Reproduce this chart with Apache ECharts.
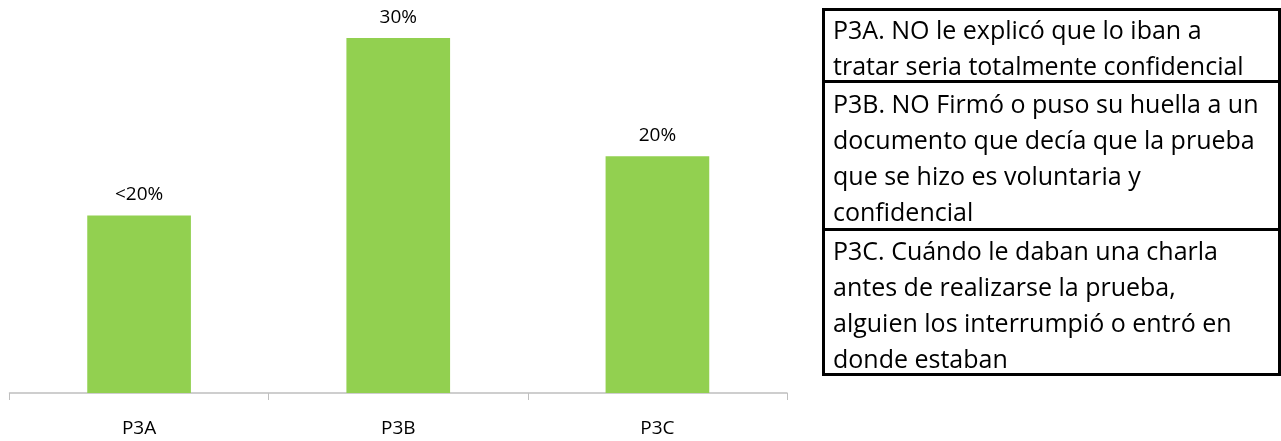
<!DOCTYPE html>
<html>
<head>
<meta charset="utf-8">
<script src="https://cdn.jsdelivr.net/npm/echarts@6/dist/echarts.min.js"></script>
<style>
  html, body { margin: 0; padding: 0; background: #ffffff; }
  #chart { width: 1281px; height: 441px; }
</style>
</head>
<body>
<div id="chart"></div>
<script>
const categories = ['P3A', 'P3B', 'P3C'];
const values = [15, 30, 20];
const valueLabels = ['<20%', '30%', '20%'];
const descriptions = [
  'P3A. NO le explicó que lo iban a\ntratar seria totalmente confidencial',
  'P3B. NO Firmó o puso su huella a un\ndocumento que decía que la prueba\nque se hizo es voluntaria y\nconfidencial',
  'P3C. Cuándo le daban una charla\nantes de realizarse la prueba,\nalguien los interrumpió o entró en\ndonde estaban'
];

const FONT = '"Open Sans", sans-serif';
const chart = echarts.init(document.getElementById('chart'), null, { renderer: 'canvas' });

// table geometry (layout only)
const tbl = { x: 823.5, y: 9.5, w: 456, rows: [72, 148, 145] };
const graphics = [];
let yy = tbl.y;
const textTops = [13.5, 87.5, 234.5];
descriptions.forEach(function (d, i) {
  graphics.push({
    type: 'rect',
    shape: { x: tbl.x, y: yy, width: tbl.w, height: tbl.rows[i] },
    style: { fill: 'none', stroke: '#000', lineWidth: 3 },
    silent: true
  });
  graphics.push({
    type: 'text',
    x: 833,
    y: textTops[i],
    style: {
      text: d,
      font: '25px ' + FONT,
      fill: '#000',
      lineHeight: 36,
      verticalAlign: 'top',
      align: 'left'
    },
    silent: true
  });
  yy += tbl.rows[i];
});

chart.setOption({
  animation: false,
  backgroundColor: '#ffffff',
  grid: { left: 9.5, top: 38, width: 777.5, bottom: 48, containLabel: false },
  xAxis: {
    type: 'category',
    data: categories,
    axisLine: { show: true, lineStyle: { color: '#BFBFBF', width: 1.5 } },
    axisTick: { show: true, length: 7, lineStyle: { color: '#BFBFBF' } },
    axisLabel: { color: '#000', fontFamily: FONT, fontSize: 19, margin: 26 }
  },
  yAxis: {
    type: 'value',
    min: 0,
    max: 30,
    show: false,
    splitLine: { show: false }
  },
  series: [{
    type: 'bar',
    data: values,
    barWidth: '40%',
    itemStyle: { color: '#92D050' },
    label: {
      show: true,
      position: 'top',
      distance: 11,
      color: '#000',
      fontFamily: FONT,
      fontSize: 19,
      formatter: function (p) { return valueLabels[p.dataIndex]; }
    }
  }],
  graphic: graphics
});
</script>
</body>
</html>
